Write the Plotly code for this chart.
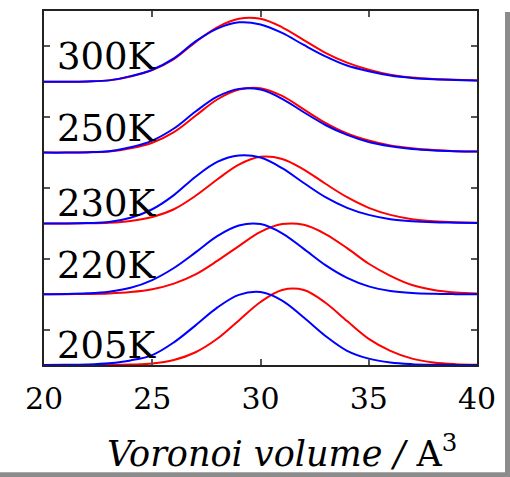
import plotly.graph_objects as go

# Voronoi volume grid (A^3)
volume = list(range(20, 41))

temperatures = ["205K", "220K", "230K", "250K", "300K"]

# Normalised distributions, one pair per temperature (red / blue)
red_205 = [0, 0, 0, 0.002, 0.007, 0.02, 0.07, 0.18, 0.37, 0.63, 0.89, 1.06, 1.06,
           0.88, 0.62, 0.37, 0.2, 0.09, 0.035, 0.012, 0.004]
blue_205 = [0, 0.002, 0.008, 0.025, 0.065, 0.14, 0.32, 0.56, 0.81, 0.99, 1.03, 0.91,
            0.67, 0.41, 0.2, 0.09, 0.035, 0.012, 0.004, 0.001, 0]

red_220 = [0, 0.001, 0.003, 0.01, 0.03, 0.07, 0.15, 0.28, 0.47, 0.68, 0.88, 0.99,
           0.98, 0.85, 0.65, 0.43, 0.26, 0.13, 0.06, 0.025, 0.01]
blue_220 = [0, 0.003, 0.012, 0.035, 0.09, 0.2, 0.37, 0.59, 0.82, 0.97, 0.99, 0.86,
            0.64, 0.41, 0.23, 0.11, 0.045, 0.016, 0.005, 0.001, 0]

red_230 = [0, 0, 0.002, 0.01, 0.035, 0.09, 0.2, 0.39, 0.62, 0.83, 0.94, 0.91,
           0.76, 0.56, 0.37, 0.22, 0.12, 0.06, 0.03, 0.015, 0.01]
blue_230 = [0, 0, 0.005, 0.02, 0.08, 0.2, 0.4, 0.66, 0.87, 0.96, 0.93, 0.78,
            0.57, 0.37, 0.22, 0.12, 0.06, 0.03, 0.015, 0.01, 0.005]

red_250 = [0, 0, 0.003, 0.015, 0.06, 0.14, 0.29, 0.52, 0.75, 0.89, 0.91, 0.8,
           0.61, 0.42, 0.27, 0.17, 0.1, 0.06, 0.035, 0.02, 0.015]
blue_250 = [0, 0, 0.005, 0.02, 0.075, 0.17, 0.34, 0.58, 0.79, 0.9, 0.89, 0.76,
            0.57, 0.39, 0.25, 0.15, 0.09, 0.05, 0.03, 0.02, 0.015]

red_300 = [0, 0, 0.005, 0.02, 0.075, 0.165, 0.32, 0.56, 0.77, 0.89, 0.89, 0.77,
           0.59, 0.41, 0.27, 0.17, 0.1, 0.06, 0.04, 0.03, 0.02]
blue_300 = [0, 0, 0.005, 0.02, 0.08, 0.17, 0.33, 0.57, 0.75, 0.84, 0.81, 0.69,
            0.52, 0.36, 0.23, 0.15, 0.09, 0.055, 0.035, 0.025, 0.02]

red_series = [red_205, red_220, red_230, red_250, red_300]
blue_series = [blue_205, blue_220, blue_230, blue_250, blue_300]

fig = go.Figure()

# each temperature is stacked one unit above the previous one
for k, (r, b) in enumerate(zip(red_series, blue_series)):
    fig.add_trace(go.Scatter(x=volume, y=[k + v for v in r], mode="lines",
                             line=dict(color="#ff0000", width=2, shape="spline", smoothing=1.0),
                             showlegend=False, hoverinfo="skip"))
    fig.add_trace(go.Scatter(x=volume, y=[k + v for v in b], mode="lines",
                             line=dict(color="#0000ff", width=2, shape="spline", smoothing=1.0),
                             showlegend=False, hoverinfo="skip"))

# temperature labels
label_y = [0.28, 1.40, 2.28, 3.34, 4.36]
for name, yy in zip(temperatures, label_y):
    fig.add_annotation(x=20.5, y=yy, text=name, showarrow=False, xanchor="left",
                       yanchor="middle", font=dict(family="DejaVu Serif", size=37, color="black"))

# axis title
fig.add_annotation(x=0.55, y=-0.243, xref="paper", yref="paper",
                   text="<i>Voronoi volume / </i>A<sup>3</sup>", showarrow=False,
                   xanchor="center", yanchor="middle",
                   font=dict(family="DejaVu Serif", size=35, color="black"))

# drop shadow along the right and bottom edges
fig.add_shape(type="rect", xref="paper", yref="paper", x0=1.0647, x1=1.08, y0=-0.32, y1=0.997,
              fillcolor="#8c8c8c", line=dict(width=0), layer="below")
fig.add_shape(type="rect", xref="paper", yref="paper", x0=-0.2, x1=1.08, y0=-0.32, y1=-0.303,
              fillcolor="#8c8c8c", line=dict(width=0), layer="below")

fig.update_xaxes(range=[20, 40], tickvals=[20, 25, 30, 35, 40],
                 ticks="inside", ticklen=6, tickwidth=2, tickcolor="#555555",
                 showline=True, linecolor="#222222", linewidth=2, mirror="ticks",
                 showgrid=False, zeroline=False, ticklabelstandoff=6,
                 tickfont=dict(family="DejaVu Serif", size=30, color="black"))
fig.update_yaxes(range=[0, 5], tickvals=[0.5, 1.5, 2.5, 3.5, 4.5],
                 ticks="inside", ticklen=6, tickwidth=2, tickcolor="#555555",
                 showline=True, linecolor="#222222", linewidth=2, mirror="ticks",
                 showgrid=False, zeroline=False, showticklabels=False)

fig.update_layout(width=510, height=477, margin=dict(l=44, r=33, t=9, b=112),
                  paper_bgcolor="white", plot_bgcolor="white")

fig.write_html("out.html")
